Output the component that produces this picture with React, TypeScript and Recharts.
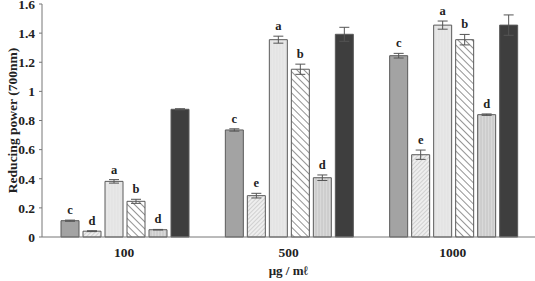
import React from 'react';
import {
  BarChart,
  Bar,
  XAxis,
  YAxis,
  ErrorBar,
  LabelList,
} from 'recharts';

const categories = ['100', '500', '1000'];

const s1 = [0.112, 0.735, 1.245];
const s2 = [0.04, 0.284, 0.565];
const s3 = [0.382, 1.355, 1.455];
const s4 = [0.245, 1.152, 1.355];
const s5 = [0.05, 0.407, 0.84];
const s6 = [0.877, 1.392, 1.455];

const e1 = [0.004, 0.008, 0.016];
const e2 = [0.003, 0.016, 0.032];
const e3 = [0.012, 0.024, 0.028];
const e4 = [0.014, 0.035, 0.036];
const e5 = [0.002, 0.019, 0.005];
const e6 = [0.004, 0.048, 0.07];

const l1 = ['c', 'c', 'c'];
const l2 = ['d', 'e', 'e'];
const l3 = ['a', 'a', 'a'];
const l4 = ['b', 'b', 'b'];
const l5 = ['d', 'd', 'd'];

const yTicks = [0, 0.2, 0.4, 0.6, 0.8, 1, 1.2, 1.4, 1.6];

const data = categories.map((c, i) => ({
  dose: c,
  s1: s1[i], s2: s2[i], s3: s3[i], s4: s4[i], s5: s5[i], s6: s6[i],
  e1: e1[i], e2: e2[i], e3: e3[i], e4: e4[i], e5: e5[i], e6: e6[i],
}));

const FONT = '"Liberation Serif", "Times New Roman", serif';

// letter above the error bar
function letterLabel(letters: string[], errs: number[], vals: number[]) {
  return (props: any) => {
    const { x, y, width, height, index } = props;
    if (index == null || !letters[index]) return null;
    const errPx = (errs[index] * height) / vals[index];
    return (
      <text
        x={x + width / 2}
        y={y - errPx - 6}
        textAnchor="middle"
        fontFamily={FONT}
        fontWeight="bold"
        fontSize={12.5}
        fill="#222"
      >
        {letters[index]}
      </text>
    );
  };
}

const series = [
  { key: 's1', err: 'e1', fill: '#a3a3a3', letters: l1, errs: e1, vals: s1 },
  { key: 's2', err: 'e2', fill: 'url(#dots)', letters: l2, errs: e2, vals: s2 },
  { key: 's3', err: 'e3', fill: 'url(#lightv)', letters: l3, errs: e3, vals: s3 },
  { key: 's4', err: 'e4', fill: 'url(#diag)', letters: l4, errs: e4, vals: s4 },
  { key: 's5', err: 'e5', fill: 'url(#vert)', letters: l5, errs: e5, vals: s5 },
  { key: 's6', err: 'e6', fill: '#3e3e3e', letters: null, errs: e6, vals: s6 },
];

const tickStyle = { fontFamily: FONT, fontWeight: 'bold', fontSize: 13.5, fill: '#222' };

export default function App() {
  return (
    <div style={{ position: 'absolute', left: 0, top: 0, background: '#fff' }}>
      <BarChart
        width={535}
        height={281}
        data={data}
        margin={{ top: 4, right: 0, left: 0, bottom: 0 }}
        barCategoryGap={19}
        barGap={4}
      >
        <defs>
          <pattern id="dots" width="3" height="3" patternUnits="userSpaceOnUse" patternTransform="rotate(45)">
            <rect width="3" height="3" fill="#eeeeee" />
            <line x1="0" y1="0" x2="0" y2="3" stroke="#b5b5b5" strokeWidth="1" />
          </pattern>
          <pattern id="lightv" width="3" height="3" patternUnits="userSpaceOnUse">
            <rect width="3" height="3" fill="#e8e8e8" />
            <line x1="1" y1="0" x2="1" y2="3" stroke="#dcdcdc" strokeWidth="0.6" />
          </pattern>
          <pattern id="diag" width="5" height="5" patternUnits="userSpaceOnUse" patternTransform="rotate(-45)">
            <rect width="5" height="5" fill="#ffffff" />
            <line x1="0" y1="0" x2="0" y2="5" stroke="#777" strokeWidth="1.6" />
          </pattern>
          <pattern id="vert" width="3" height="3" patternUnits="userSpaceOnUse">
            <rect width="3" height="3" fill="#d9d9d9" />
            <line x1="1" y1="0" x2="1" y2="3" stroke="#bcbcbc" strokeWidth="0.8" />
          </pattern>
        </defs>
        <XAxis
          dataKey="dose"
          height={44}
          tickLine={false}
          axisLine={{ stroke: '#777' }}
          tick={tickStyle}
          tickMargin={4}
          label={{
            value: 'μg / mℓ',
            position: 'insideBottom',
            offset: 6,
            style: { fontFamily: FONT, fontWeight: 'bold', fontSize: 13, fill: '#222' },
          }}
        />
        <YAxis
          width={42}
          domain={[0, 1.6]}
          ticks={yTicks}
          interval={0}
          tickSize={3}
          tickMargin={4}
          tickLine={{ stroke: '#777' }}
          axisLine={{ stroke: '#777' }}
          tick={tickStyle}
          label={{
            value: 'Reducing power (700nm)',
            angle: -90,
            position: 'insideLeft',
            offset: 12,
            style: {
              textAnchor: 'middle',
              fontFamily: FONT,
              fontWeight: 'bold',
              fontSize: 13.5,
              fill: '#222',
            },
          }}
        />
        {series.map((s) => (
          <Bar
            key={s.key}
            dataKey={s.key}
            fill={s.fill}
            stroke="#5a5a5a"
            strokeWidth={1}
            isAnimationActive={false}
          >
            <ErrorBar dataKey={s.err} width={5} stroke="#555" strokeWidth={1} direction="y" />
            {s.letters && (
              <LabelList dataKey={s.key} content={letterLabel(s.letters, s.errs, s.vals)} />
            )}
          </Bar>
        ))}
      </BarChart>
    </div>
  );
}
